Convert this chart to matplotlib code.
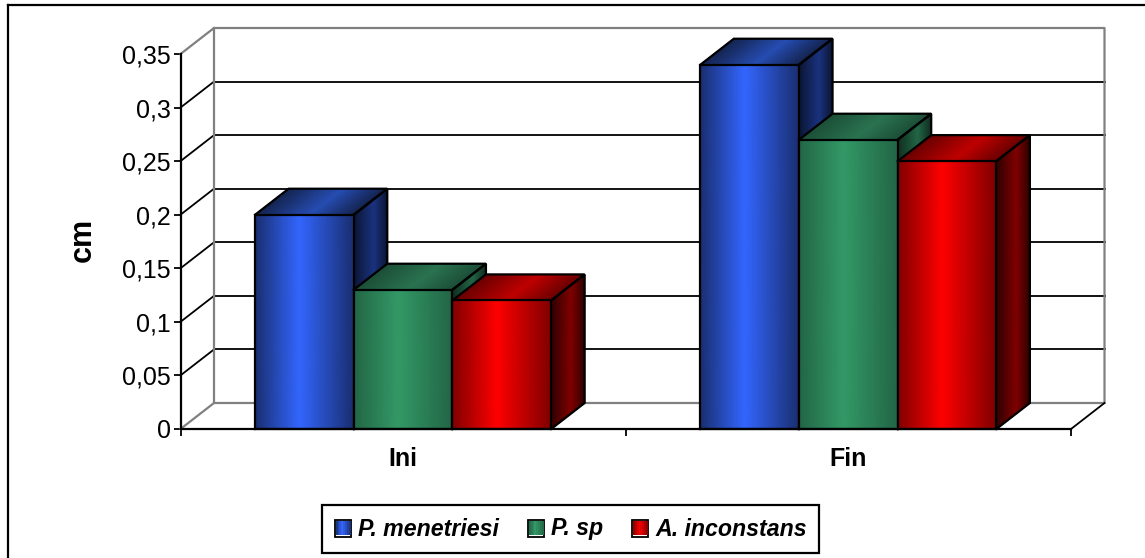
import numpy as np
import matplotlib
matplotlib.use('Agg')
import matplotlib.pyplot as plt
from matplotlib.colors import LinearSegmentedColormap
from matplotlib.legend_handler import HandlerBase
from matplotlib.lines import Line2D
from matplotlib.patches import Rectangle

categories = ['Ini', 'Fin']
species = ['P. menetriesi', 'P. sp', 'A. inconstans']
p_menetriesi = [0.20, 0.34]
p_sp = [0.13, 0.27]
a_inconstans = [0.12, 0.25]
series = [p_menetriesi, p_sp, a_inconstans]
y_ticks = [0, 0.05, 0.1, 0.15, 0.2, 0.25, 0.3, 0.35]
y_tick_labels = ['0', '0,05', '0,1', '0,15', '0,2', '0,25', '0,3', '0,35']

# dark edge, bright middle colours per series
front_dark = ['#1a2f70', '#226646', '#800000']
front_light = ['#3366ff', '#339966', '#ff0000']
top_dark = ['#14244f', '#1c4f38', '#6b0000']
top_light = ['#264db3', '#2a7350', '#bf0000']
side_dark = ['#0b1533', '#102e20', '#300000']
side_light = ['#1a3380', '#226646', '#800000']

W, H = 1145, 558
DEPTH_X = 33.5 / 445.25
DEPTH_Y = 26 / 1071.4
BAR_W = 0.2216
LINE = 1.6
THIN = 1.3

plt.rcParams['font.family'] = ['Liberation Sans', 'DejaVu Sans']

fig = plt.figure(figsize=(W / 100, H / 100), dpi=100)
ax = fig.add_axes([180.5 / W, 1 - 429 / H, 890.5 / W, 375 / H])
ax.set_xlim(-0.5, 1.5)
ax.set_ylim(0, 0.35)


def ramp(dark, light, peak=0.45):
    return LinearSegmentedColormap.from_list('r', [(0, dark), (peak, light), (1, dark)])


def shaded_face(x0, x1, y_bottom, y_top, shift_bottom, shift_top, cmap, z):
    # gradient runs across the face, the quad mesh takes care of the skew
    t = np.linspace(0, 1, 40)
    xs = x0 + (x1 - x0) * t
    X = np.vstack([xs + shift_bottom, xs + shift_top])
    Y = np.vstack([np.full_like(xs, y_bottom), np.full_like(xs, y_top)])
    ax.pcolormesh(X, Y, np.vstack([t, t]), cmap=cmap, shading='gouraud', zorder=z,
                  clip_on=False, vmin=0, vmax=1)


def outline(xs, ys, z):
    ax.plot(xs, ys, color='black', lw=LINE, zorder=z + 0.1, clip_on=False,
            solid_joinstyle='miter')


def draw_bar(x, value, idx, z):
    left, right = x - BAR_W / 2, x + BAR_W / 2
    # side
    t = np.linspace(0, 1, 20)
    X = np.vstack([right + DEPTH_X * t, right + DEPTH_X * t])
    Y = np.vstack([DEPTH_Y * t, value + DEPTH_Y * t])
    ax.pcolormesh(X, Y, np.vstack([t, t]), cmap=ramp(side_dark[idx], side_light[idx], 0.6),
                  shading='gouraud', zorder=z, clip_on=False, vmin=0, vmax=1)
    outline([right, right + DEPTH_X, right + DEPTH_X, right],
            [0, DEPTH_Y, value + DEPTH_Y, value], z)
    # top
    shaded_face(left, right, value, value + DEPTH_Y, 0, DEPTH_X,
                ramp(top_dark[idx], top_light[idx], 0.55), z)
    outline([left, left + DEPTH_X, right + DEPTH_X, right],
            [value, value + DEPTH_Y, value + DEPTH_Y, value], z)
    # front
    shaded_face(left, right, 0, value, 0, 0, ramp(front_dark[idx], front_light[idx]), z)
    outline([left, right, right, left, left], [0, 0, value, value, 0], z)


# back wall, side wall and floor
x_lo, x_hi = ax.get_xlim()
for tick in y_ticks[1:-1]:
    ax.plot([x_lo + DEPTH_X, x_hi + DEPTH_X], [tick + DEPTH_Y] * 2, color='black', lw=THIN,
            clip_on=False, zorder=1)
    ax.plot([x_lo, x_lo + DEPTH_X], [tick, tick + DEPTH_Y], color='black', lw=THIN,
            clip_on=False, zorder=1)
gray = '#808080'
top = y_ticks[-1]
ax.plot([x_lo, x_lo + DEPTH_X, x_hi + DEPTH_X, x_hi + DEPTH_X, x_lo + DEPTH_X, x_lo + DEPTH_X],
        [top, top + DEPTH_Y, top + DEPTH_Y, DEPTH_Y, DEPTH_Y, top + DEPTH_Y],
        color=gray, lw=LINE, clip_on=False, zorder=2)
ax.plot([x_lo, x_lo + DEPTH_X], [0, DEPTH_Y], color=gray, lw=LINE, clip_on=False, zorder=2)
ax.plot([x_hi, x_hi + DEPTH_X], [0, DEPTH_Y], color='black', lw=THIN, clip_on=False, zorder=2)

xpos = np.arange(len(categories), dtype=float)
offsets = np.array([-1, 0, 1]) * BAR_W
for i, values in enumerate(series):
    for x, v in zip(xpos + offsets[i], values):
        draw_bar(x, v, i, 5 + i)

for s in ['top', 'right']:
    ax.spines[s].set_visible(False)
for s in ['left', 'bottom']:
    ax.spines[s].set_linewidth(LINE)
    ax.spines[s].set_zorder(20)
ax.patch.set_visible(False)

ax.set_yticks(y_ticks)
ax.set_yticklabels(y_tick_labels, fontsize=18)
ax.tick_params(axis='y', length=5, width=THIN, pad=2)
ax.set_xticks([-0.5, 0.5, 1.5])
ax.set_xticklabels([])
ax.set_xticks(xpos, minor=True)
ax.set_xticklabels(categories, minor=True, fontsize=18, fontweight='bold')
ax.tick_params(axis='x', which='major', length=5, width=THIN)
ax.tick_params(axis='x', which='minor', length=0, pad=13)
ax.set_ylabel('cm', fontsize=22, fontweight='bold', va='bottom')
ax.yaxis.set_label_coords(-0.0932, 0.505)


class GradientHandle(HandlerBase):
    # small shaded swatch with the white lower edge of the legend key
    def create_artists(self, legend, orig, xd, yd, width, height, fontsize, trans):
        idx = int(orig.get_gid())
        box_w, box_h = 11.5, 12.5
        x0 = (width - box_w) / 2
        y0 = (height - box_h) / 2 - 1
        parts = [Rectangle((x0, y0), box_w, box_h, fc='white', ec='black', lw=THIN, transform=trans)]
        cmap = ramp(front_dark[idx], front_light[idx])
        n = 8
        for k in range(n):
            parts.append(Rectangle((x0 + 0.5 + k * (box_w - 1) / n, y0 + 1.8), (box_w - 1) / n + 0.1,
                                   box_h - 2.3, fc=cmap((k + 0.5) / n), ec='none', transform=trans))
        return parts


handles = [Rectangle((0, 0), 1, 1, gid=str(i)) for i in range(len(species))]
leg = fig.legend(handles, species, handler_map={Rectangle: GradientHandle()},
                 loc='center', bbox_to_anchor=(570.5 / W, 1 - 529 / H), ncol=3,
                 frameon=True, fancybox=False, edgecolor='black', framealpha=1,
                 prop={'size': 16.7, 'weight': 'bold', 'style': 'italic'},
                 handlelength=0.75, handletextpad=0.25, columnspacing=1.25,
                 borderpad=0.55, borderaxespad=0)
leg.get_frame().set_linewidth(LINE)

# chart border runs along the top and left edges only
for xs, ys in [([8, W], [5, 5]), ([8, 8], [5, H])]:
    fig.add_artist(Line2D([v / W for v in xs], [1 - v / H for v in ys], color='black', lw=LINE,
                          transform=fig.transFigure))

fig.savefig('out.png', dpi=100)
